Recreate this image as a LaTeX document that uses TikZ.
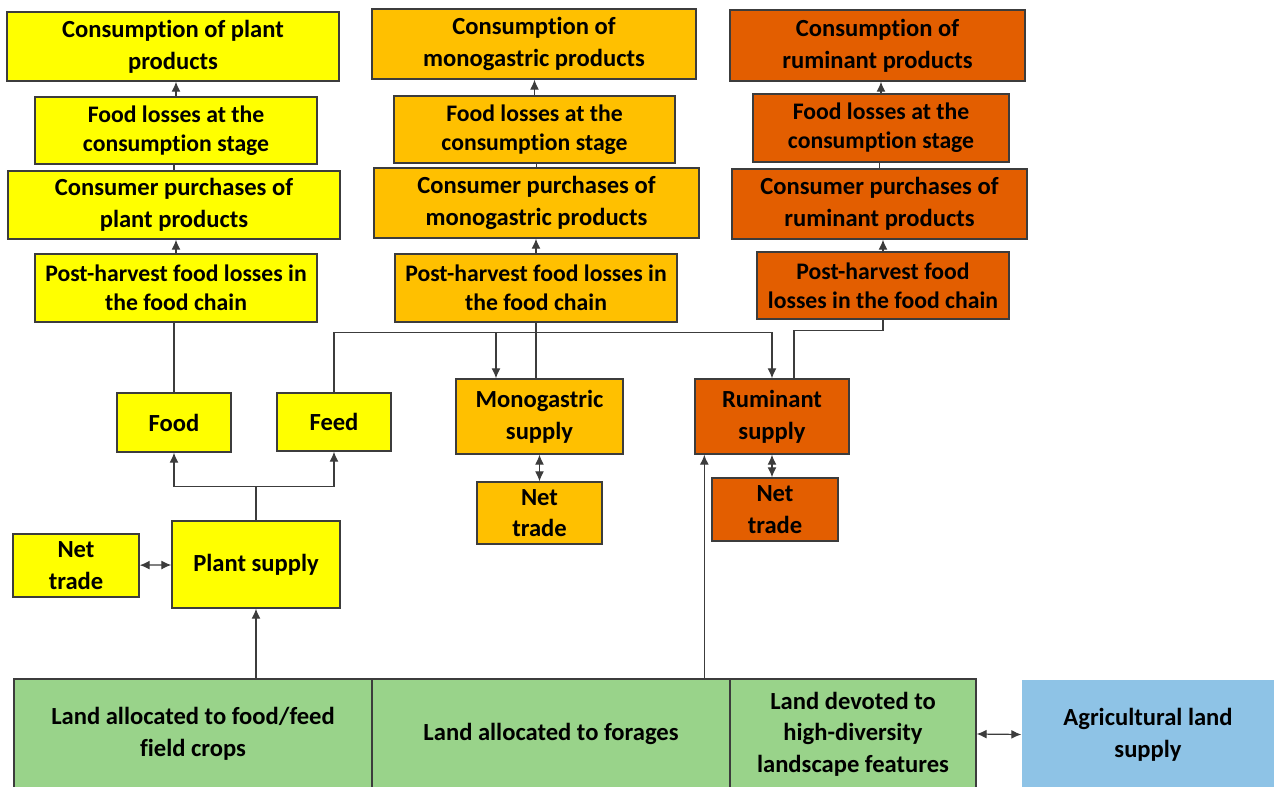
\documentclass[tikz,border=0pt]{standalone}
\usepackage{fontspec}
\setmainfont{Carlito}[Ligatures=NoCommon]
\usetikzlibrary{arrows.meta}

\definecolor{plantc}{RGB}{255,255,0}
\definecolor{monoc}{RGB}{255,192,0}
\definecolor{rumc}{RGB}{227,94,0}
\definecolor{landc}{RGB}{153,211,138}
\definecolor{supc}{RGB}{142,195,230}
\definecolor{edgec}{RGB}{60,60,60}

\tikzset{
  box/.style={draw=edgec, line width=0.8pt, inner sep=0pt, align=center,
    font=\bfseries\fontsize{14}{18}\selectfont},
  smallbox/.style={box, font=\bfseries\fontsize{13.5}{16.5}\selectfont},
  link/.style={draw=edgec, line width=0.7pt},
  tip/.style={link, -{Latex[length=2mm,width=1.8mm]}},
  twotip/.style={link, {Latex[length=2mm,width=1.8mm]}-{Latex[length=2mm,width=1.8mm]}}
}

\begin{document}
\begin{tikzpicture}[x=0.02cm, y=-0.02cm]
  \useasboundingbox (0,0) rectangle (1274,787);

  % plant column
  \node[box, fill=plantc, minimum width=6.64cm, minimum height=1.38cm] (conplant) at (173,46.5) {Consumption of plant\\products};
  \node[smallbox, fill=plantc, minimum width=5.64cm, minimum height=1.34cm] (flplant) at (176,130.5) {Food losses at the\\consumption stage};
  \node[box, fill=plantc, minimum width=6.64cm, minimum height=1.36cm] (cpplant) at (174,205) {Consumer purchases of\\plant products};
  \node[smallbox, fill=plantc, minimum width=5.64cm, minimum height=1.36cm] (phplant) at (176,288) {Post-harvest food losses in\\the food chain};

  % monogastric column
  \node[box, fill=monoc, minimum width=6.48cm, minimum height=1.40cm] (conmono) at (534,44) {Consumption of\\monogastric products};
  \node[smallbox, fill=monoc, minimum width=5.62cm, minimum height=1.34cm] (flmono) at (534.5,129.5) {Food losses at the\\consumption stage};
  \node[box, fill=monoc, minimum width=6.5cm, minimum height=1.40cm] (cpmono) at (536.5,203) {Consumer purchases of\\monogastric products};
  \node[smallbox, fill=monoc, minimum width=5.64cm, minimum height=1.36cm] (phmono) at (536,288) {Post-harvest food losses in\\the food chain};

  % ruminant column
  \node[box, fill=rumc, minimum width=5.9cm, minimum height=1.42cm] (conrum) at (877.5,45.5) {Consumption of\\ruminant products};
  \node[smallbox, fill=rumc, minimum width=5.12cm, minimum height=1.36cm] (flrum) at (881,128) {Food losses at the\\consumption stage};
  \node[box, fill=rumc, minimum width=5.9cm, minimum height=1.40cm] (cprum) at (879.5,204) {Consumer purchases of\\ruminant products};
  \node[smallbox, fill=rumc, minimum width=5.04cm, minimum height=1.34cm] (phrum) at (883,285.5) {Post-harvest food\\losses in the food chain};

  % supplies
  \node[box, fill=plantc, minimum width=2.28cm, minimum height=1.18cm] (food) at (174,422.5) {Food};
  \node[box, fill=plantc, minimum width=2.28cm, minimum height=1.16cm] (feed) at (334,422) {Feed};
  \node[box, fill=plantc, minimum width=3.36cm, minimum height=1.74cm] (plantsup) at (256,564.5) {Plant supply};
  \node[box, fill=plantc, minimum width=2.52cm, minimum height=1.26cm] (ntplant) at (76,565.5) {Net\\trade};
  \node[box, fill=monoc, minimum width=3.34cm, minimum height=1.5cm] (monosup) at (539.5,416.5) {Monogastric\\supply};
  \node[box, fill=monoc, minimum width=2.5cm, minimum height=1.24cm] (ntmono) at (539.5,513) {Net\\trade};
  \node[box, fill=rumc, minimum width=3.08cm, minimum height=1.5cm] (rumsup) at (772,416.5) {Ruminant\\supply};
  \node[box, fill=rumc, minimum width=2.52cm, minimum height=1.26cm] (ntrum) at (775,509.5) {Net\\trade};

  % land
  \node[box, fill=landc, minimum width=7.16cm, minimum height=2.2cm] (landcrops) at (193,734) {Land allocated to food/feed\\field crops};
  \node[box, fill=landc, minimum width=7.16cm, minimum height=2.2cm] (landforage) at (551,734) {Land allocated to forages};
  \node[box, fill=landc, minimum width=4.92cm, minimum height=2.2cm] (landfeat) at (853,734) {Land devoted to\\high-diversity\\landscape features};
  \node[box, draw=none, fill=supc, minimum width=5.04cm, minimum height=2.18cm] (agrisup) at (1148,734.5) {Agricultural land\\supply};

  % chains
  \draw[tip] (phplant.north) -- (phplant.north |- cpplant.south);
  \draw[link] (cpplant.north) -- (cpplant.north |- flplant.south);
  \draw[tip] (flplant.north) -- (flplant.north |- conplant.south);
  \draw[tip] (phmono.north) -- (phmono.north |- cpmono.south);
  \draw[link] (cpmono.north) -- (cpmono.north |- flmono.south);
  \draw[tip] (flmono.north) -- (flmono.north |- conmono.south);
  \draw[tip] (phrum.north) -- (phrum.north |- cprum.south);
  \draw[link] (cprum.north) -- (cprum.north |- flrum.south);
  \draw[tip] (flrum.north) -- (flrum.north |- conrum.south);

  % supplies to chains
  \draw[link] (food.north) -- (food.north |- phplant.south);
  \draw[link] (phmono.south) -- (phmono.south |- monosup.north);
  \draw[tip] (feed.north) -- ++(0,-60) coordinate (feedturn) -| ([xshift=-0.87cm]monosup.north);
  \draw[tip] (feedturn) -| (rumsup.north);
  \draw[link] ([xshift=0.44cm]rumsup.north) -- ++(0,-48) -| (phrum.south);
  \draw[tip] (plantsup.north) -- ++(0,-34) coordinate (plantfork) -| (food.south);
  \draw[tip] (plantfork) -| (feed.south);

  % trade
  \draw[twotip] (ntplant) -- (plantsup);
  \draw[twotip] (monosup.south) -- (monosup.south |- ntmono.north);
  \draw[twotip] (rumsup.south) -- (rumsup.south |- ntrum.north);

  % land to supplies
  \coordinate (ruminlet) at ([xshift=0.2cm]rumsup.south west);
  \draw[tip] (plantsup.south |- landcrops.north) -- (plantsup.south);
  \draw[tip] (ruminlet |- landforage.north) -- (ruminlet);
  \draw[twotip] (landfeat.east) -- (agrisup.west);
\end{tikzpicture}
\end{document}
